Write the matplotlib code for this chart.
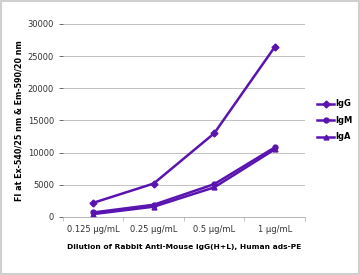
import matplotlib
matplotlib.use('Agg')
import matplotlib.pyplot as plt
from matplotlib.patches import Rectangle

categories = ['0.125 µg/mL', '0.25 µg/mL', '0.5 µg/mL', '1 µg/mL']
igg = [2200, 5200, 13000, 26400]
igm = [700, 1900, 5100, 10800]
iga = [450, 1600, 4600, 10500]
series = [('IgG', igg, 'D'), ('IgM', igm, 'o'), ('IgA', iga, '^')]
yticks = [0, 5000, 10000, 15000, 20000, 25000, 30000]

color = '#5a14b0'

fig = plt.figure(figsize=(3.6, 2.75), dpi=100)
ax = fig.add_axes([0.175, 0.211, 0.672, 0.702])

x = range(len(categories))
for name, vals, m in series:
    ax.plot(x, vals, color=color, lw=1.8, marker=m, ms=3.5, label=name)

ax.set_xlim(-0.5, len(categories) - 0.5)
ax.set_ylim(0, 30000)
ax.set_yticks(yticks)
ax.set_xticks(list(x))
ax.set_xticklabels(categories, fontsize=6, color='#333333')
ax.tick_params(axis='y', labelsize=6, colors='#333333', length=3, width=0.5)
ax.tick_params(axis='x', length=0, pad=6)
ax.set_xticks([i - 0.5 for i in range(len(categories) + 1)], minor=True)
ax.tick_params(axis='x', which='minor', length=3, width=0.5, color='#aaaaaa')
ax.grid(axis='y', color='#b8b8b8', lw=0.6)
ax.set_axisbelow(True)
for s in ['top', 'right', 'left']:
    ax.spines[s].set_visible(False)
ax.spines['bottom'].set_color('#aaaaaa')
ax.spines['bottom'].set_linewidth(0.6)

ax.set_xlabel('Dilution of Rabbit Anti-Mouse IgG(H+L), Human ads-PE',
              fontsize=5.4, fontweight='bold', labelpad=7)
ax.set_ylabel('FI at Ex-540/25 nm & Em-590/20 nm', fontsize=5.8,
              fontweight='bold', labelpad=3)

ax.legend(loc='center left', bbox_to_anchor=(1.02, 0.5), frameon=False,
          handlelength=2.0, handletextpad=0.2,
          labelspacing=0.9, prop={'weight': 'bold', 'size': 6})

fig.patches.append(Rectangle((0.003, 0.004), 0.994, 0.992, transform=fig.transFigure,
                             fill=False, edgecolor='#d0d0d0', lw=1.5))

fig.savefig('out.png', dpi=100)
